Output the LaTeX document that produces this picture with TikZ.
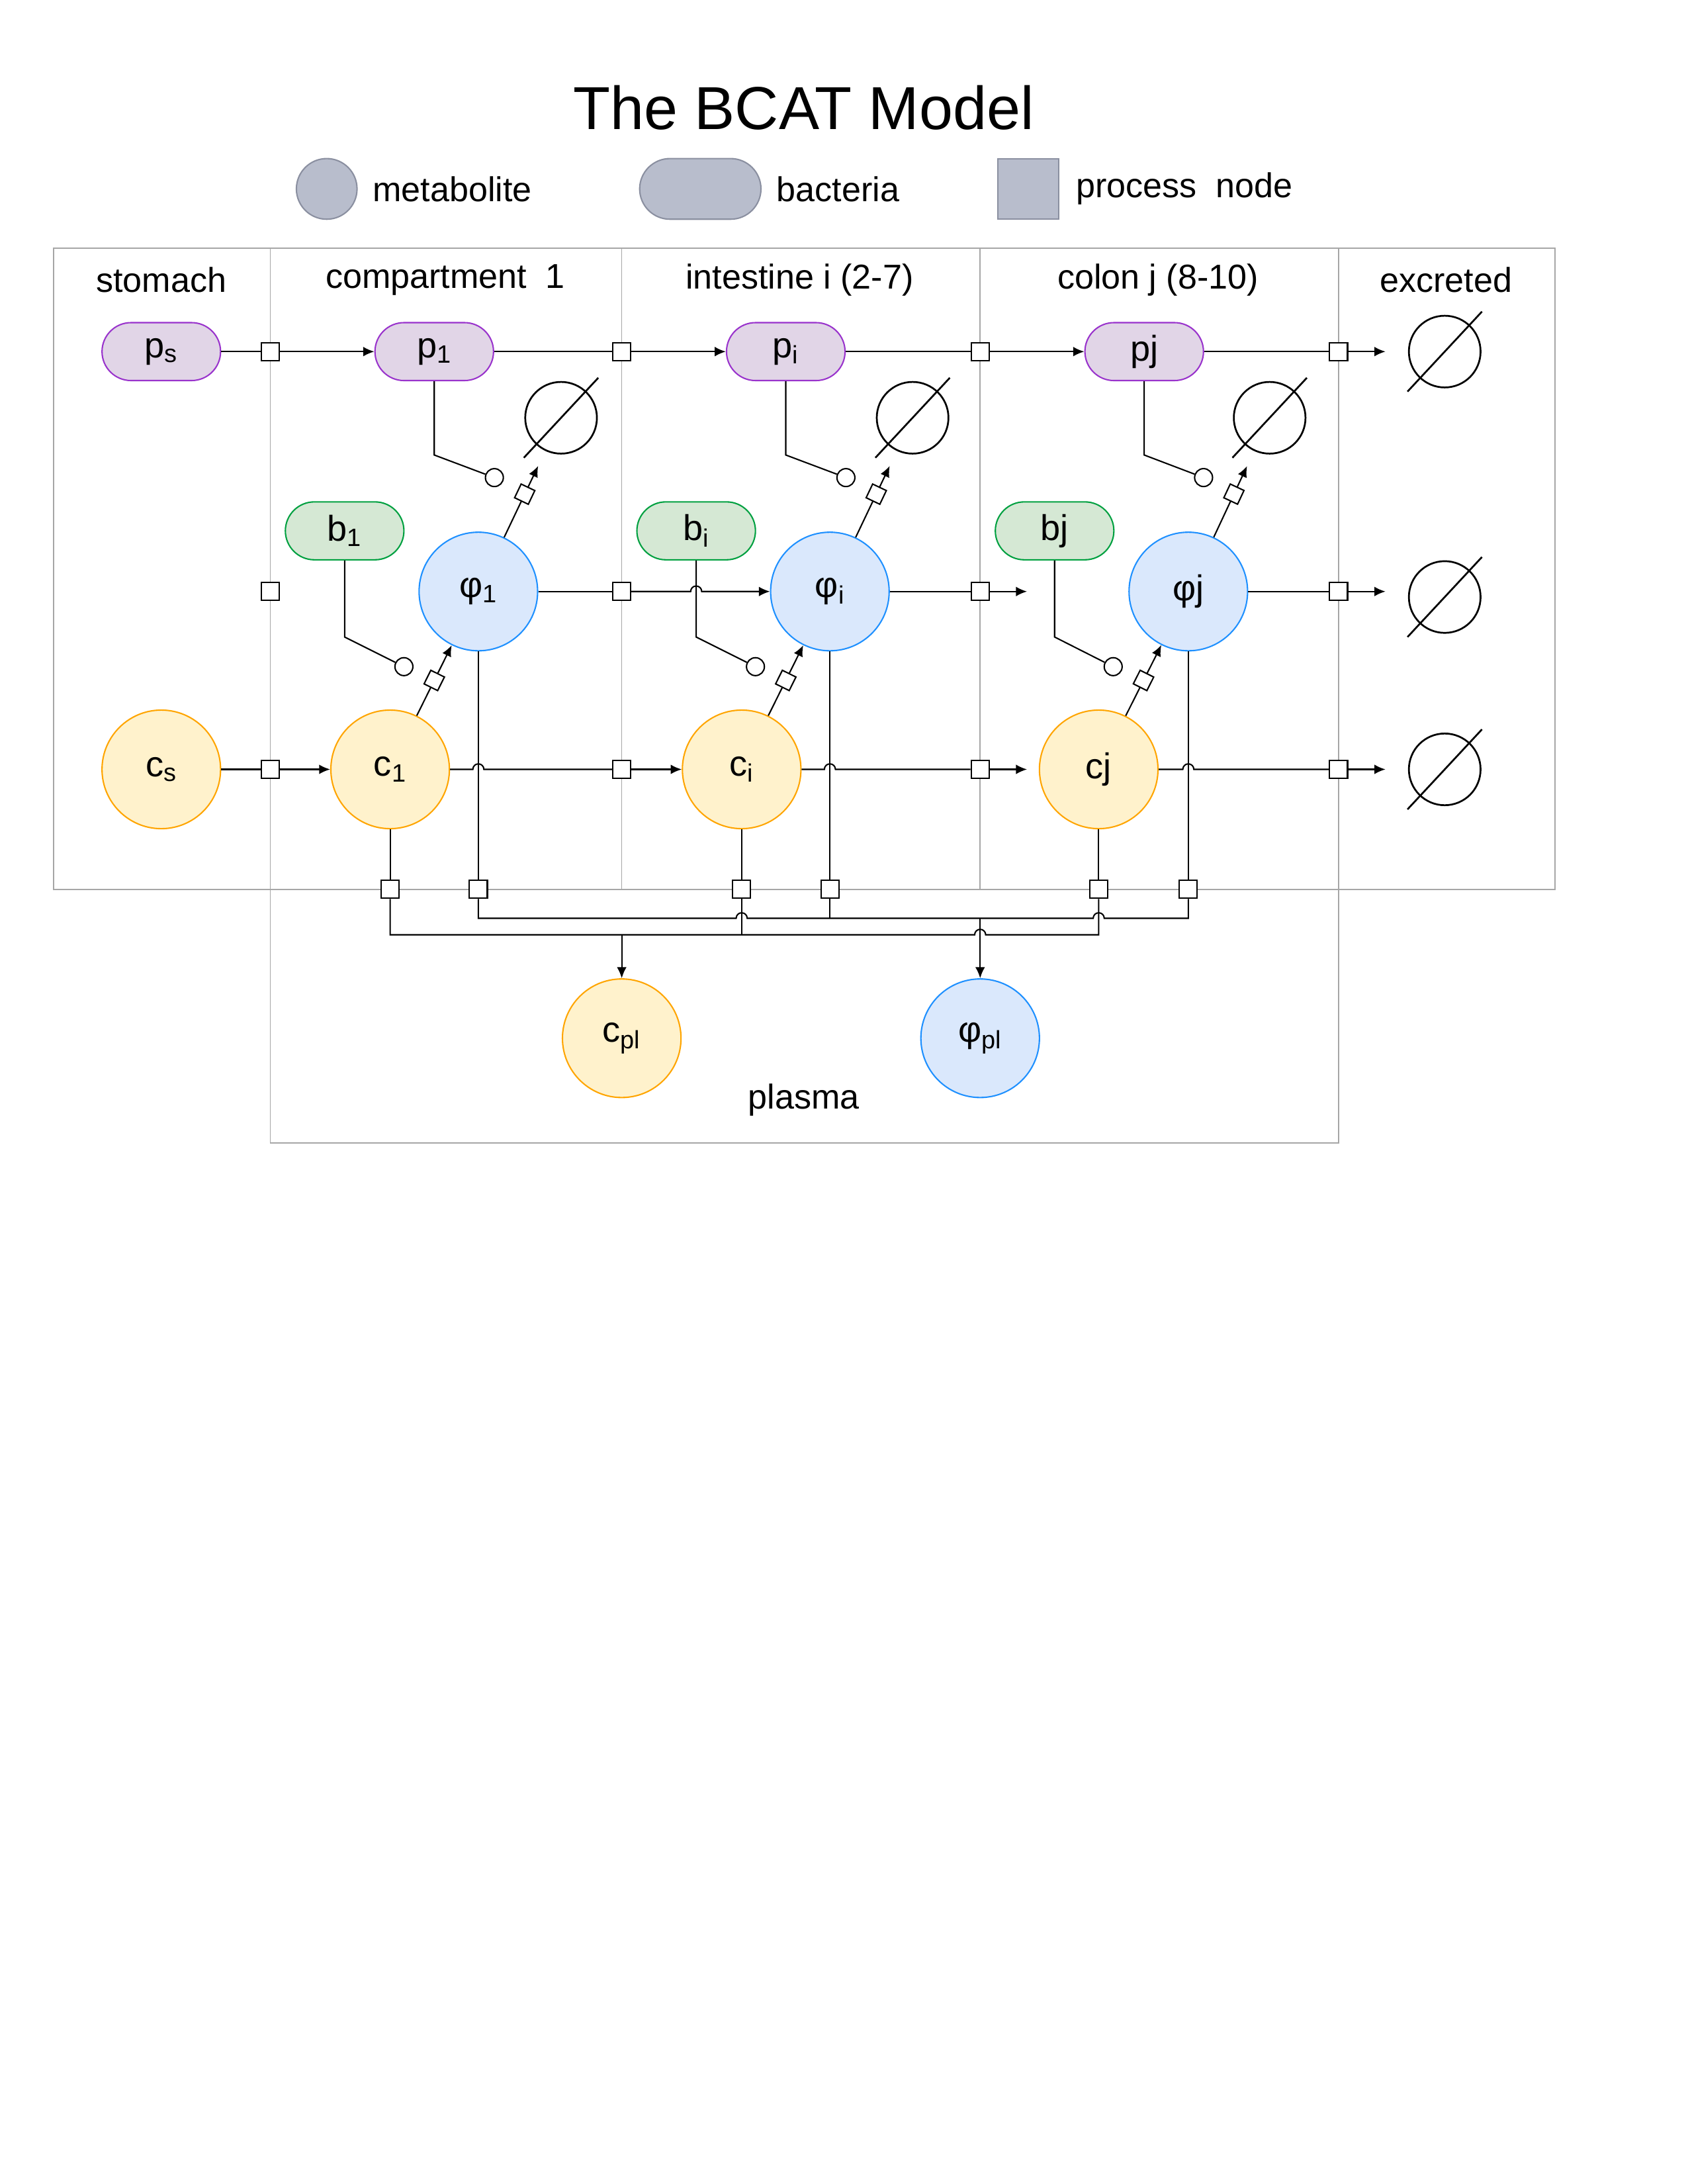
\documentclass[tikz,border=0pt]{standalone}
\usepackage{fontspec}
\setmainfont{Liberation Sans}
\usetikzlibrary{arrows.meta,calc}
\definecolor{pf}{HTML}{E1D5E7}\definecolor{pd}{HTML}{9933CC}
\definecolor{gf}{HTML}{D5E8D4}\definecolor{gd}{HTML}{00A040}
\definecolor{bf}{HTML}{DAE8FC}\definecolor{bd}{HTML}{1E90FF}
\definecolor{of}{HTML}{FFF2CC}\definecolor{od}{HTML}{FFA500}
\definecolor{lf}{HTML}{B8BDCC}\definecolor{ld}{HTML}{8A8FA0}
\begin{document}
\begin{tikzpicture}[x=1pt,y=-1pt,line width=1pt,
 txt/.style={font=\fontsize{25}{29}\selectfont,inner sep=0},
 lab/.style={font=\fontsize{26}{30}\selectfont},
 pill/.style={rounded corners=21pt,minimum width=86pt,minimum height=42pt,lab,inner sep=0},
 pp/.style={pill,draw=pd,fill=pf},
 bb/.style={pill,draw=gd,fill=gf},
 met/.style={circle,minimum size=86pt,lab,inner sep=0},
 ph/.style={met,draw=bd,fill=bf},
 cc/.style={met,draw=od,fill=of},
 sq/.style={draw,fill=white,minimum size=13pt,inner sep=0},
 dsq/.style={sq,minimum size=11pt,sloped},
 mod/.style={circle,draw,fill=white,minimum size=13pt,inner sep=0},
 es/.style={circle,draw,line width=1.3pt,minimum size=52pt,inner sep=0},
 box/.style={draw=gray!70,line width=0.8pt},
 ar/.style={-{Latex[length=8pt,width=7pt]}}]
\useasboundingbox (0,0) rectangle (1224,1584);
\node[font=\fontsize{44}{50}\selectfont] (title) at (583,78) {The BCAT Model};
% legend
\node[circle,draw=ld,fill=lf,minimum size=44pt] (lg1) at (237,137) {};
\node[txt,anchor=west] (lt1) at (270,137) {metabolite};
\node[rounded corners=22pt,draw=ld,fill=lf,minimum width=88pt,minimum height=44pt] (lg2) at (508,137) {};
\node[txt,anchor=west] (lt2) at (563,137) {bacteria};
\node[draw=ld,fill=lf,minimum size=44pt] (lg3) at (746,137) {};
\node[txt,anchor=west] (lt3) at (780,137) {process\ \ node};
% boxes
\draw[box] (39,180) rectangle (1128,645);
\draw[box] (196,180) -- (196,829) -- (971,829) -- (971,180);
\draw[box] (451,180) -- (451,645) (711,180) -- (711,645);
\node[txt] (h1) at (117,203) {stomach};
\node[txt] (h2) at (323,203) {compartment\ \ 1};
\node[txt] (h3) at (580,203) {intestine i (2-7)};
\node[txt] (h4) at (840,203) {colon j (8-10)};
\node[txt] (h5) at (1049,203) {excreted};
\node[txt] (pl) at (583,798) {plasma};
% p row
\node[pp] (ps) at (117,255) {p\textsubscript{s}};
\node[pp] (p1) at (315,255) {p\textsubscript{1}};
\node[pp] (pi) at (570,255) {p\textsubscript{i}};
\node[pp] (pj) at (830,255) {pj};
% bacteria
\node[bb] (b1) at (250,385) {b\textsubscript{1}};
\node[bb] (bi) at (505,385) {b\textsubscript{i}};
\node[bb] (bj) at (765,385) {bj};
% phi
\node[ph] (f1) at (347,429) {φ\textsubscript{1}};
\node[ph] (fi) at (602,429) {φ\textsubscript{i}};
\node[ph] (fj) at (862,429) {φj};
% c
\node[cc] (cs) at (117,558) {c\textsubscript{s}};
\node[cc] (c1) at (283,558) {c\textsubscript{1}};
\node[cc] (ci) at (538,558) {c\textsubscript{i}};
\node[cc] (cj) at (797,558) {cj};
\node[cc] (cpl) at (451,753) {c\textsubscript{pl}};
\node[ph] (fpl) at (711,753) {φ\textsubscript{pl}};
% excreted sinks
\node[es] (ep) at (1048,255) {};
\node[es] (ef) at (1048,433) {};
\node[es] (ec) at (1048,558) {};
\foreach \e in {ep,ef,ec}{\draw[line width=1.3pt] ($(\e.center)+(-27,29)$) -- ($(\e.center)+(27,-29)$);}
% process squares
\foreach \r/\y in {p/255,f/429,c/558}{
 \foreach \n/\x in {a/196,b/451,c/711,d/971}{\node[sq] (s\r\n) at (\x,\y) {};}}
\foreach \n/\x in {c1/283,f1/347,ci/538,fi/602,cj/797,fj/862}{\node[sq] (v\n) at (\x,645) {};}
\foreach \r/\y in {p/255,f/429,c/558}{\coordinate (x\r) at (1005,\y);}
% p row edges
\draw (ps) -- (spa); \draw[ar] (spa) -- (p1);
\draw (p1) -- (spb); \draw[ar] (spb) -- (pi);
\draw (pi) -- (spc); \draw[ar] (spc) -- (pj);
\draw (pj) -- (spd); \draw[ar] (spd) -- (xp);
% phi row edges
\coordinate (fm) at (745,429);
\draw (f1) -- (sfb);
\draw[ar] (sfb) -- (501,429) arc(180:360:4) -- (fi);
\draw (fi) -- (sfc); \draw[ar] (sfc) -- (fm);
\draw (fj) -- (sfd); \draw[ar] (sfd) -- (xf);
% c row edges
\coordinate (cm) at (745,558);
\draw (cs) -- (sca); \draw[ar] (sca) -- (c1);
\draw (c1) -- (343,558) arc(180:360:4) -- (scb); \draw[ar] (scb) -- (ci);
\draw (ci) -- (598,558) arc(180:360:4) -- (scc); \draw[ar] (scc) -- (cm);
\draw (cj) -- (858,558) arc(180:360:4) -- (scd); \draw[ar] (scd) -- (xc);
% degradation and modulation
\foreach \n/\x/\p/\b/\f/\c/\px/\bx in {1/407/p1/b1/f1/c1/315/250,i/662/pi/bi/fi/ci/570/505,j/921/pj/bj/fj/cj/830/765}{
 \node[es] (ed\n) at (\x,303) {};
 \draw[line width=1.3pt] ($(ed\n.center)+(-27,29)$) -- ($(ed\n.center)+(27,-29)$);
 \draw[ar,shorten >=12pt] (\f) -- node[dsq] (sd\n) {} (ed\n);
 \draw[ar] (\c) -- node[dsq] (sc\n) {} (\f);
 \node[mod] (md\n) at ($(sd\n)+(-22,-12)$) {};
 \node[mod] (mc\n) at ($(sc\n)+(-22,-10)$) {};
 \draw (\p) -- (\px,330) -- (md\n);
 \draw (\b) -- (\bx,462) -- (mc\n);
}
% plasma exchange
\draw (c1) -- (vc1); \draw (ci) -- (vci); \draw (cj) -- (vcj);
\draw (f1) -- (vf1); \draw (fi) -- (vfi); \draw (fj) -- (vfj);
\draw (vc1) -- (283,678) -- (707,678) arc(180:360:4) -- (797,678) -- (vcj);
\draw (vci) -- (538,678);
\draw (vf1) -- (347,666) -- (534,666) arc(180:360:4) -- (793,666) arc(180:360:4) -- (862,666) -- (vfj);
\draw (vfi) -- (602,666);
\draw[ar] (451,678) -- (cpl);
\draw[ar] (711,666) -- (fpl);
\end{tikzpicture}
\end{document}
